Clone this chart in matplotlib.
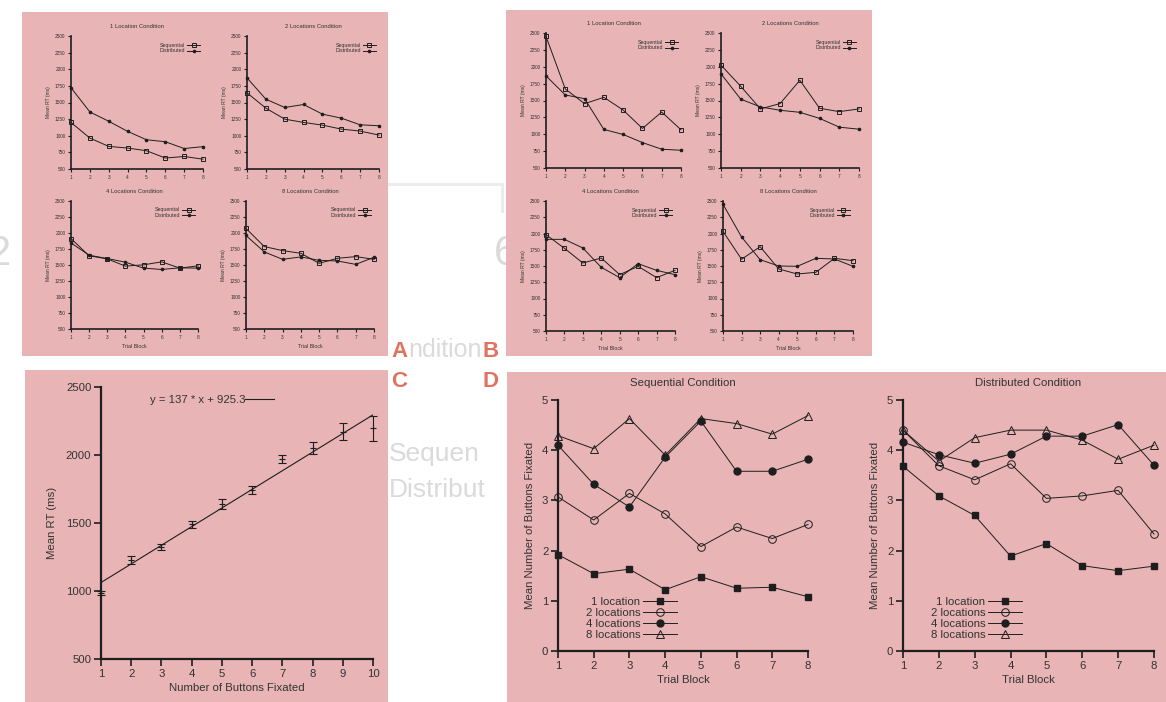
import matplotlib
matplotlib.use("Agg")
import matplotlib.pyplot as plt
from matplotlib.patches import Rectangle

plt.rcParams['font.family'] = ['Liberation Sans', 'DejaVu Sans']

W, H = 1166, 702
PINK = '#e8b4b5'
INK = '#1e1e1e'
FAINT = '#dadada'
LET = '#e0735f'

# ---------------- data ----------------
blocks = [1, 2, 3, 4, 5, 6, 7, 8]
rt_ticks = [500, 750, 1000, 1250, 1500, 1750, 2000, 2250, 2500]

# Panel A  (Mean RT per trial block)
a_titles = ['1 Location Condition', '2 Locations Condition',
            '4 Locations Condition', '8 Locations Condition']
a_seq = [[1200, 965, 840, 815, 775, 665, 688, 648],
         [1645, 1415, 1250, 1200, 1160, 1100, 1070, 1010],
         [1913, 1643, 1596, 1482, 1503, 1549, 1451, 1487],
         [2071, 1788, 1725, 1683, 1526, 1605, 1631, 1589]]
a_dist = [[1722, 1358, 1218, 1066, 940, 910, 808, 836],
          [1870, 1550, 1425, 1470, 1325, 1265, 1165, 1150],
          [1845, 1653, 1601, 1544, 1451, 1430, 1456, 1451],
          [1961, 1704, 1589, 1626, 1573, 1563, 1510, 1620]]

# Panel B
b_titles = a_titles
b_seq = [[2450, 1671, 1453, 1547, 1359, 1086, 1329, 1066],
         [2024, 1711, 1375, 1455, 1800, 1385, 1335, 1375],
         [1982, 1772, 1546, 1623, 1367, 1495, 1321, 1433],
         [2033, 1603, 1797, 1454, 1377, 1403, 1618, 1582]]
b_dist = [[1865, 1582, 1527, 1071, 997, 877, 778, 763],
          [1895, 1520, 1405, 1355, 1325, 1235, 1105, 1075],
          [1910, 1910, 1777, 1479, 1321, 1536, 1433, 1367],
          [2449, 1946, 1597, 1500, 1495, 1618, 1608, 1495]]

# Panel C  (RT vs number of buttons fixated)
buttons = [1, 2, 3, 4, 5, 6, 7, 8, 9, 10]
c_rt = [986, 1226, 1325, 1489, 1641, 1742, 1972, 2053, 2171, 2196]
c_err = [15, 30, 23, 28, 36, 27, 30, 43, 61, 92]
fit_slope, fit_icpt = 137, 925.3
fit_label = 'y = 137 * x + 925.3'

# Panel D  (mean number of buttons fixated)
d_labels = ['1 location', '2 locations', '4 locations', '8 locations']
d_seq = [[1.92, 1.54, 1.63, 1.22, 1.48, 1.25, 1.27, 1.08],
         [3.07, 2.61, 3.14, 2.73, 2.08, 2.47, 2.24, 2.52],
         [4.10, 3.32, 2.87, 3.86, 4.58, 3.58, 3.58, 3.82],
         [4.29, 4.03, 4.63, 3.90, 4.63, 4.53, 4.32, 4.69]]
d_dist = [[3.68, 3.09, 2.70, 1.89, 2.14, 1.70, 1.60, 1.69],
          [4.40, 3.69, 3.41, 3.73, 3.04, 3.09, 3.20, 2.33],
          [4.16, 3.91, 3.74, 3.92, 4.28, 4.28, 4.51, 3.70],
          [4.40, 3.78, 4.25, 4.40, 4.40, 4.20, 3.82, 4.10]]

fig = plt.figure(figsize=(W / 100, H / 100), dpi=100)
fig.patch.set_facecolor('white')

# underlay in pixel coordinates
under = fig.add_axes([0, 0, 1, 1], zorder=-10)
under.set_xlim(0, W)
under.set_ylim(H, 0)
under.set_axis_off()


def frect(x0, y0, x1, y1):
    return [x0 / W, 1 - y1 / H, (x1 - x0) / W, (y1 - y0) / H]


def ax_px(x0, y0, x1, y1):
    ax = fig.add_axes(frect(x0, y0, x1, y1))
    ax.patch.set_alpha(0)
    return ax


def bg(x0, y0, x1, y1, color=PINK, z=2):
    under.add_patch(Rectangle((x0, y0), x1 - x0, y1 - y0, facecolor=color,
                              edgecolor='none', zorder=z, clip_on=False))


# faint background material (partly covered by the panels)
bg(388, 183, 504, 186, color='#ececec', z=0)
bg(501, 183, 504, 213, color='#ececec', z=0)
under.text(11, 265, '2', fontsize=30, color=FAINT, ha='right', va='baseline', zorder=1)
under.text(494, 265, '6', fontsize=30, color=FAINT, ha='left', va='baseline', zorder=1)
under.text(482, 357, 'ndition', fontsize=18, color=FAINT, ha='right', va='baseline', zorder=1)
under.text(389, 461, 'Sequen', fontsize=19, color=FAINT, ha='left', va='baseline', zorder=1)
under.text(389, 497, 'Distribut', fontsize=19, color=FAINT, ha='left', va='baseline', zorder=1)

# panel backgrounds
bg(22, 12, 388, 356)
bg(506, 10, 872, 356)
bg(25, 370, 388, 702)
bg(507, 372, 1166, 702)

for s, x, y in [('A', 399, 357), ('B', 491, 357), ('C', 399, 387), ('D', 491, 387)]:
    under.text(x, y, s, fontsize=16, fontweight='bold', color=LET,
               ha='center', va='baseline', zorder=5)


def small_rt(rect, title, seq, dist, xlabel):
    ax = ax_px(*rect)
    ax.plot(blocks, seq, color=INK, lw=0.7, marker='s', ms=3.2, mfc='none', mec=INK, mew=0.7,
            label='Sequential', clip_on=False)
    ax.plot(blocks, dist, color=INK, lw=0.7, marker='o', ms=1.6, mfc=INK, mec=INK,
            label='Distributed', clip_on=False)
    ax.set_xlim(1, 8)
    ax.set_ylim(500, 2500)
    ax.set_xticks(blocks)
    ax.set_yticks(rt_ticks)
    for sp in ['top', 'right']:
        ax.spines[sp].set_visible(False)
    for sp in ['left', 'bottom']:
        ax.spines[sp].set_linewidth(1.2)
        ax.spines[sp].set_color(INK)
    ax.tick_params(direction='out', length=2.5, width=0.8, labelsize=3.4, pad=1.5,
                   colors=INK, labelcolor='#333333')
    ax.set_title(title, fontsize=4.2, color='#333333', pad=6)
    ax.set_ylabel('Mean RT (ms)', fontsize=3.6, color='#333333', labelpad=3)
    if xlabel:
        ax.set_xlabel('Trial Block', fontsize=3.8, color='#333333', labelpad=3)
    ax.legend(loc='upper right', bbox_to_anchor=(1.0, 0.97), frameon=False, fontsize=3.8,
              markerfirst=False, handlelength=2.6, handletextpad=0.3, labelspacing=0.15,
              borderpad=0, labelcolor='#333333')
    return ax


a_rects = [(71, 36, 203, 169), (247, 36, 379, 169), (71, 201, 198, 329), (246, 201, 374, 329)]
for i in range(4):
    small_rt(a_rects[i], a_titles[i], a_seq[i], a_dist[i], xlabel=i >= 2)

b_rects = [(546, 33, 681, 168), (721, 33, 859, 168), (546, 201, 675, 331), (723, 201, 853, 331)]
for i in range(4):
    small_rt(b_rects[i], b_titles[i], b_seq[i], b_dist[i], xlabel=i >= 2)

# ---------------- Panel C ----------------
axc = ax_px(101, 387, 373, 659)
axc.errorbar(buttons, c_rt, yerr=c_err, fmt='+', ms=4, color=INK, ecolor=INK,
             elinewidth=0.8, capsize=3, capthick=0.8, mew=0.8, clip_on=False)
fx = [buttons[0], buttons[-1]]
axc.plot(fx, [fit_slope * v + fit_icpt for v in fx], color=INK, lw=0.8, label=fit_label)
axc.set_xlim(1, 10)
axc.set_ylim(500, 2500)
axc.set_xticks(buttons)
axc.set_yticks([500, 1000, 1500, 2000, 2500])
for sp in ['top', 'right']:
    axc.spines[sp].set_visible(False)
for sp in ['left', 'bottom']:
    axc.spines[sp].set_linewidth(1.6)
    axc.spines[sp].set_color(INK)
axc.tick_params(direction='out', length=5, width=1.2, labelsize=8.2, pad=2,
                colors=INK, labelcolor='#333333')
axc.set_xlabel('Number of Buttons Fixated', fontsize=8.2, color='#333333', labelpad=3)
axc.set_ylabel('Mean RT (ms)', fontsize=8.2, color='#333333', labelpad=6)
axc.legend(loc='upper left', bbox_to_anchor=(0.15, 1.0), frameon=False, fontsize=8.2,
           markerfirst=False, handlelength=2.5, handletextpad=0.0, borderpad=0.2,
           labelcolor='#333333')

# ---------------- Panel D ----------------
mk = [dict(marker='s', ms=5, mfc=INK, mec=INK),
      dict(marker='o', ms=5.5, mfc='none', mec=INK, mew=0.7),
      dict(marker='o', ms=5, mfc=INK, mec=INK),
      dict(marker='^', ms=5.5, mfc='none', mec=INK, mew=0.7)]


def count_panel(rect, title, data):
    ax = ax_px(*rect)
    for j in range(4):
        ax.plot(blocks, data[j], color=INK, lw=0.7, label=d_labels[j], clip_on=False, **mk[j])
    ax.set_xlim(1, 8)
    ax.set_ylim(0, 5)
    ax.set_xticks(blocks)
    ax.set_yticks([0, 1, 2, 3, 4, 5])
    for sp in ['top', 'right']:
        ax.spines[sp].set_visible(False)
    for sp in ['left', 'bottom']:
        ax.spines[sp].set_linewidth(1.6)
        ax.spines[sp].set_color(INK)
    ax.tick_params(direction='out', length=5, width=1.2, labelsize=8.2, pad=2,
                   colors=INK, labelcolor='#333333')
    ax.set_title(title, fontsize=8.2, color='#333333', pad=10)
    ax.set_xlabel('Trial Block', fontsize=8.2, color='#333333', labelpad=3)
    ax.set_ylabel('Mean Number of Buttons Fixated', fontsize=8.2, color='#333333', labelpad=5)
    ax.legend(loc='lower left', bbox_to_anchor=(0.088, 0.02), frameon=False, fontsize=8.2,
              markerfirst=False, handlelength=3.0, handletextpad=0.2, labelspacing=0.1,
              borderpad=0, labelcolor='#333333')
    return ax


count_panel((558, 400, 808, 651), 'Sequential Condition', d_seq)
count_panel((903, 400, 1154, 651), 'Distributed Condition', d_dist)

fig.savefig('out.png', dpi=100)
